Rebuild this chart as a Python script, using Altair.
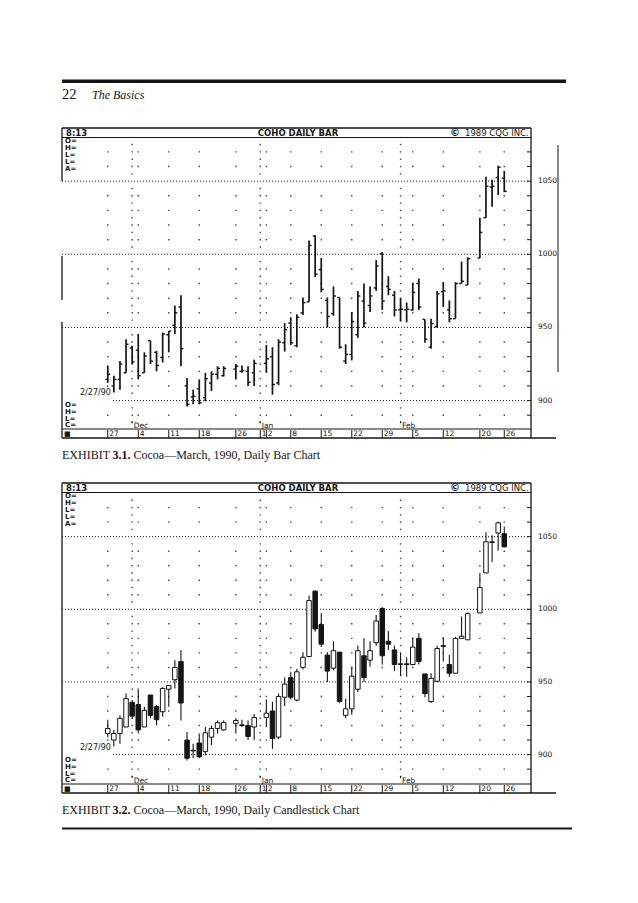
import altair as alt
import pandas as pd

# ---------------- data ----------------
# slot = weekday index counted from Mon 27 Nov 1989 (holidays keep an empty slot)
slots = [0, 1, 2, 3, 4, 5, 6, 7, 8, 9, 10, 11, 12, 13, 14, 15, 16, 17, 18, 19,
         21, 22, 23, 24, 26, 27, 28, 29, 30, 31, 32, 33, 34, 35, 36, 37, 38, 39,
         40, 41, 42, 43, 44, 45, 46, 47, 48, 49, 50, 51, 52, 53, 54, 55, 56, 57,
         58, 59, 61, 62, 63, 64, 65]
opens = [914.5, 910, 914.5, 919, 936, 934.5, 919, 941, 933, 929.5, 945, 951.5, 964,
         910, 902.5, 908, 902, 912, 918, 917, 921.5, 920, 920, 919, 925.5, 930, 912,
         939.5, 953, 937.5, 960, 967.5, 1012.5, 989.5, 968.5, 959.5, 970.5, 927, 931.5,
         945, 968, 965, 977, 1000.5, 978, 972, 962, 962, 962, 980, 955.5, 936.5, 950.5,
         974.5, 962, 956, 980, 979, 997.5, 1025, 1046, 1052.5, 1052]
highs = [924, 917, 927, 942, 937.5, 945.5, 933, 941, 934, 946.5, 947.5, 965, 972,
         915.5, 907.5, 914.5, 919, 920, 923.5, 923.5, 925, 924, 923.5, 928, 938, 936.5,
         942, 953, 957, 959, 970.5, 1009.5, 1013, 997.5, 970.5, 978, 970.5, 938.5, 960.5,
         975, 980, 978, 996, 1001.5, 985, 975, 970, 967, 980.5, 983.5, 955.5, 956, 975,
         981, 968.5, 981, 995, 998, 1025, 1053, 1051, 1060.5, 1057]
lows = [912, 905.5, 907.5, 919, 925, 914.5, 919, 925, 920, 926, 933, 945.5, 923.5,
        896, 897.5, 897.5, 899.5, 906.5, 914.5, 916.5, 914.5, 919, 910, 910, 919, 904,
        910.5, 933.5, 938, 936.5, 958.5, 967.5, 984.5, 974, 950, 958, 935.5, 925, 927.5,
        943, 950, 960.5, 975, 962, 972, 957.5, 954, 953.5, 961.5, 962, 939.5, 935.5, 950,
        964, 953.5, 956, 980, 979, 997.5, 1025, 1032.5, 1040.5, 1042.5]
closes = [918, 914.5, 925, 938.5, 926.5, 917, 930.5, 927, 924, 945.5, 947.5, 960,
          935.5, 897.5, 903, 898.5, 915, 918, 922, 922, 923.5, 920.5, 912.5, 925.5,
          928.5, 911, 940, 948.5, 939.5, 957, 967, 1006, 986.5, 976, 957.5, 971.5, 936.5,
          931.5, 954, 971.5, 953, 971.5, 992, 968, 976, 962, 962.5, 962.5, 974, 964, 942,
          952.5, 973, 975, 956, 980, 981.5, 997, 1015, 1046.5, 1046.5, 1059.5, 1043]

week_slots = [0, 5, 10, 15, 21, 25, 26, 30, 35, 40, 45, 50, 55, 61, 65]
week_labels = ["27", "4", "11", "18", "26", "1", "2", "8", "15", "22", "29", "5", "12", "20", "26"]
dot_slots = [0, 5, 10, 15, 21, 26, 30, 35, 40, 45, 50, 55, 61, 65]
month_slots = [4, 25, 48]
month_labels = ["Dec", "Jan", "Feb"]
price_labels = [900, 950, 1000, 1050]

# ---------------- layout helpers ----------------
W, H = 622, 880
M = 8
SLOT_X0, SLOT_W = 104.3, 6.2


def cx(px):
    return px - M


def cy(py):
    return py - M


def ydom(y1000, ppp):
    top = 1000 + (y1000 - M) / ppp
    bot = 1000 - (M + H - y1000) / ppp
    return [bot, top]


XS = alt.Scale(domain=[(M - SLOT_X0) / SLOT_W, (M + W - SLOT_X0) / SLOT_W], nice=False, zero=False)
YT = alt.Scale(domain=ydom(254.3, 1.463), nice=False, zero=False)
YB = alt.Scale(domain=ydom(609.3, 1.453), nice=False, zero=False)

CQG = "DejaVu Sans"
SERIF = "Liberation Serif"
INK = "#151515"

df = pd.DataFrame({"slot": slots, "o": opens, "h": highs, "l": lows, "c": closes})
df["up"] = df["c"] >= df["o"]

dots = pd.DataFrame([{"slot": s, "p": p} for s in dot_slots
                     for p in range(890, 1071, 10) if p % 50 != 0])
mdots = pd.DataFrame([{"slot": s, "p": p} for s in month_slots
                      for p in [885 + 5 * k for k in range(39)] if p % 50 != 0])
levels = pd.DataFrame({"p": [float(v) for v in range(890, 1071, 10)]})
plabels = pd.DataFrame({"p": price_labels, "t": [str(v) for v in price_labels]})
weeks = pd.DataFrame({"slot": week_slots, "t": week_labels})
months = pd.DataFrame({"slot": month_slots, "t": month_labels})

ONE = alt.Data(values=[{"k": 1}])


def X(field="slot"):
    return alt.X(field, type="quantitative", scale=XS, axis=None)


def Y(field, ys):
    return alt.Y(field, type="quantitative", scale=ys, axis=None)


def txt(s, x, y, size=8, font=CQG, weight="normal", style="normal", align="left", color=INK):
    return alt.Chart(ONE).mark_text(
        text=s, align=align, baseline="middle", fontSize=size, font=font,
        fontWeight=weight, fontStyle=style, color=color
    ).encode(x=alt.value(cx(x)), y=alt.value(cy(y)))


def hrule(x1, x2, y, w=1.0, color=INK):
    return alt.Chart(ONE).mark_rule(strokeWidth=w, color=color).encode(
        x=alt.value(cx(x1)), x2=alt.value(cx(x2)), y=alt.value(cy(y)))


def vrule(x, y1, y2, w=1.0, color=INK):
    return alt.Chart(ONE).mark_rule(strokeWidth=w, color=color).encode(
        x=alt.value(cx(x)), y=alt.value(cy(y1)), y2=alt.value(cy(y2)))


def panel(kind, ys, d, caption_num, caption_rest, left_segments, side_line):
    L, R = 62, 531
    layers = []
    # frame
    layers += [hrule(L, R, 128 + d, 1.3), hrule(L, R, 137.5 + d, 1.1),
               vrule(R, 128 + d, 438 + d, 1.3),
               hrule(L, R, 429 + d, 1.0), hrule(L, 556, 438 + d, 1.3)]
    if side_line:
        layers.append(vrule(558, 145 + d, 372 + d, 1.0))
    for a, b in left_segments:
        layers.append(vrule(L, a + d, b + d, 1.3))
    # header texts
    B = "bold"
    layers += [txt("8:13", 66, 132.5 + d, 8.5, weight=B),
               txt("COHO DAILY BAR", 298, 132.5 + d, 8.5, weight=B, align="center"),
               txt("\u00a9", 450, 132.5 + d, 10, weight=B),
               txt("1989 CQG INC.", 465, 132.5 + d, 8.5)]
    for lab, yy in zip(["O=", "H=", "L=", "L=", "A="], [141, 148, 155, 162, 169]):
        layers.append(txt(lab, 65, yy + d, 7, weight=B))
    for lab, yy in zip(["O=", "H=", "L=", "C="], [404.5, 411.5, 418.5, 425]):
        layers.append(txt(lab, 65, yy + d, 7, weight=B))
    layers.append(txt("2/27/90", 80, 393 + d, 8))
    layers.append(txt("\u25a0", 64, 434 + d, 7))
    # grid: dotted price lines, dots
    grid_hi = pd.DataFrame({"p": [950, 1000, 1050]})
    layers.append(alt.Chart(grid_hi).mark_rule(strokeDash=[1, 2], strokeWidth=1, color=INK).encode(
        y=Y("p", ys), x=alt.value(cx(L)), x2=alt.value(cx(R))))
    layers.append(alt.Chart(pd.DataFrame({"p": [900]})).mark_rule(strokeDash=[1, 2], strokeWidth=1, color=INK).encode(
        y=Y("p", ys), x=alt.value(cx(113)), x2=alt.value(cx(R))))
    layers.append(alt.Chart(dots).mark_square(size=2, color="#333", opacity=0.9).encode(x=X(), y=Y("p", ys)))
    layers.append(alt.Chart(mdots).mark_square(size=2, color="#333", opacity=0.9).encode(x=X(), y=Y("p", ys)))
    # right border ticks
    layers.append(alt.Chart(levels).mark_rule(strokeWidth=1, color=INK).encode(
        y=Y("p", ys), x=alt.value(cx(527)), x2=alt.value(cx(R))))
    # price labels
    layers.append(alt.Chart(plabels).mark_text(align="left", baseline="middle", fontSize=7.5, font=CQG, color=INK).encode(
        y=Y("p", ys), x=alt.value(cx(538)), text="t:N"))
    # date row ticks and labels
    layers.append(alt.Chart(weeks).mark_rule(strokeWidth=1, color=INK).encode(
        x=X(), y=alt.value(cy(430 + d)), y2=alt.value(cy(438 + d))))
    layers.append(alt.Chart(weeks).mark_text(align="left", baseline="middle", fontSize=7.5, font=CQG, color=INK, dx=1.5).encode(
        x=X(), y=alt.value(cy(434 + d)), text="t:N"))
    layers.append(alt.Chart(months).mark_rule(strokeWidth=1, color=INK).encode(
        x=X(), y=alt.value(cy(421 + d)), y2=alt.value(cy(423 + d))))
    layers.append(alt.Chart(months).mark_text(align="left", baseline="middle", fontSize=7.5, font=CQG, color=INK, dx=1.5).encode(
        x=X(), y=alt.value(cy(425.5 + d)), text="t:N"))
    # price marks
    base = alt.Chart(df)
    if kind == "bar":
        layers.append(base.mark_rule(strokeWidth=1.7, color=INK).encode(x=X(), y=Y("l", ys), y2=alt.Y2("h")))
        layers.append(base.transform_calculate(xa="datum.slot - 0.4").mark_rule(strokeWidth=1.4, color=INK).encode(
            x=X("xa"), x2=alt.X2("slot"), y=Y("o", ys)))
        layers.append(base.transform_calculate(xb="datum.slot + 0.4").mark_rule(strokeWidth=1.4, color=INK).encode(
            x=X("slot"), x2=alt.X2("xb"), y=Y("c", ys)))
    else:
        layers.append(base.mark_rule(strokeWidth=1.1, color=INK).encode(x=X(), y=Y("l", ys), y2=alt.Y2("h")))
        layers.append(base.mark_bar(size=4.5, stroke=INK, strokeWidth=1).encode(
            x=X(), y=Y("o", ys), y2=alt.Y2("c"),
            fill=alt.condition("datum.up", alt.value("white"), alt.value(INK))))
    # caption
    layers += [txt("EXHIBIT", 62, 455 + d, 12, font=SERIF),
               txt(caption_num, 112.5, 455 + d, 12, font=SERIF, weight="bold"),
               txt(caption_rest, 133.5, 455 + d, 12, font=SERIF)]
    return layers


page = [hrule(62, 566, 81.3, 3.6),
        txt("22", 62, 95, 14.5, font=SERIF),
        txt("The Basics", 92, 95, 12, font=SERIF, style="italic"),
        hrule(62, 572, 828.5, 2.0)]

layers = page
layers += panel("bar", YT, 0, "3.1.", "Cocoa\u2014March, 1990, Daily Bar Chart",
                [(128, 181), (256, 300), (322, 438)], True)
layers += panel("candle", YB, 355, "3.2.", "Cocoa\u2014March, 1990, Daily Candlestick Chart",
                [(128, 438)], False)

chart = alt.layer(*layers).resolve_scale(y="independent").properties(
    width=W, height=H, autosize=alt.AutoSizeParams(type="none"), padding=0,
    background="white"
).configure_view(stroke=None)

chart.save("out.html", embed_options={"renderer": "svg", "actions": False})
